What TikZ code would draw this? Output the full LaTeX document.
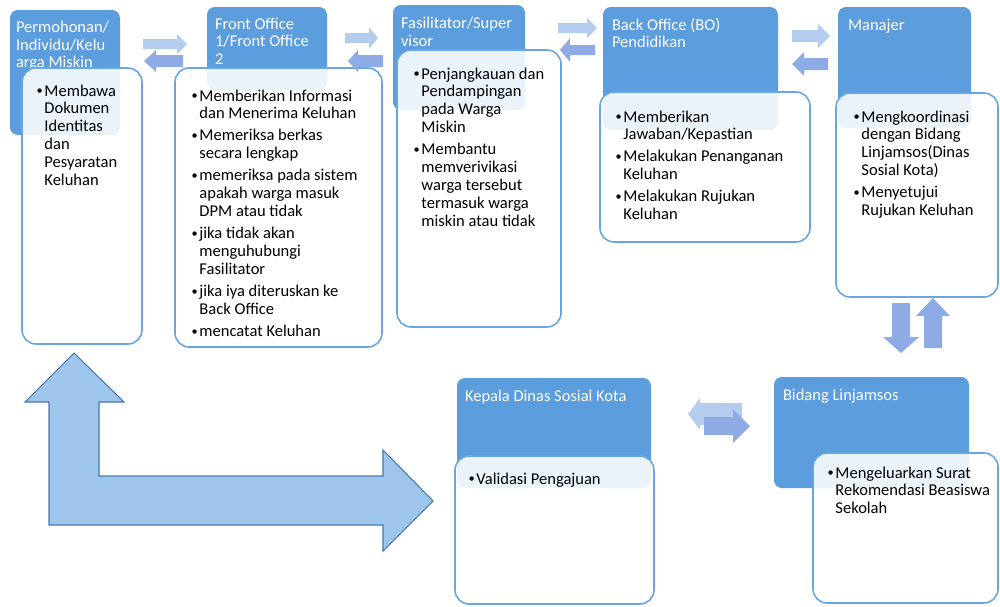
\documentclass[tikz,border=0pt]{standalone}
\usepackage{fontspec}
\setmainfont{Carlito}
\usetikzlibrary{fit}

\definecolor{hdblue}{RGB}{91,157,221}
\definecolor{bdline}{RGB}{104,166,226}
\definecolor{arrlight}{RGB}{180,204,238}
\definecolor{arrdark}{RGB}{143,171,230}
\definecolor{bigfill}{RGB}{158,197,236}
\definecolor{bigline}{RGB}{72,120,170}

\newcommand{\bul}{\makebox[4.5pt][l]{\raisebox{0.6pt}{\fontsize{7}{7}\selectfont\textbullet}}}
\newcommand{\hang}{\hspace*{4.5pt}}

\tikzset{
  hdbox/.style={inner sep=0pt, fill=hdblue, rounded corners=4.5pt},
  bdbox/.style={inner sep=0pt, draw=bdline, line width=0.9pt,
                fill=white, fill opacity=0.88, rounded corners=8pt},
  hdtext/.style={anchor=north west, inner sep=0pt, text=white, align=left,
                 font=\fontsize{9.4}{10}\selectfont},
  bdtext/.style={anchor=north west, inner sep=0pt, align=left,
                 font=\fontsize{9.4}{10.2}\selectfont},
  bigarr/.style={fill=bigfill, draw=bigline, line width=0.6pt}
}

% block arrow pointing along +x: length, shaft half, head half, head length
\newcommand{\blk}[4]{%
  (0,-#2) -- ({#1-#4},-#2) -- ({#1-#4},-#3) -- (#1,0)
  -- ({#1-#4},#3) -- ({#1-#4},#2) -- (0,#2) -- cycle}

\begin{document}
\begin{tikzpicture}[x=0.02cm, y=-0.02cm]
    \useasboundingbox (0,0) rectangle (1000,606);

    % Permohonan
    \node[hdbox, fit={(10,10) (120,135)}] (hd1) {};
    \node[hdtext] (ht1) at ([shift={(6,11)}]hd1.north west) {Permohonan/\\Individu/Kelu\\arga Miskin};
    \node[bdbox, fit={(22,68) (142,344)}] (bd1) {};
    \node[bdtext] (bt1) at ([shift={(15,17)}]bd1.north west)
        {\bul Membawa\\\hang Dokumen\\\hang Identitas\\\hang dan\\\hang Pesyaratan\\\hang Keluhan};

    % Front Office
    \node[hdbox, fit={(207,7) (327,90)}] (hd2) {};
    \node[hdtext] (ht2) at ([shift={(8,11)}]hd2.north west) {Front Office\\1/Front Office\\2};
    \node[bdbox, fit={(175,68) (382,347)}] (bd2) {};
    \node[bdtext] (bt2) at ([shift={(17,22)}]bd2.north west)
        {\bul Memberikan Informasi\\\hang dan Menerima Keluhan\\[2.3pt]
         \bul Memeriksa berkas\\\hang secara lengkap\\[2.3pt]
         \bul memeriksa pada sistem\\\hang apakah warga masuk\\\hang DPM atau tidak\\[2.3pt]
         \bul jika tidak akan\\\hang menguhubungi\\\hang Fasilitator\\[2.3pt]
         \bul jika iya diteruskan ke\\\hang Back Office\\[2.3pt]
         \bul mencatat Keluhan};

    % Fasilitator
    \node[hdbox, fit={(393,5) (525,110)}] (hd3) {};
    \node[hdtext] (ht3) at ([shift={(8,12)}]hd3.north west) {Fasilitator/Super\\visor};
    \node[bdbox, fit={(397,50) (561,327)}] (bd3) {};
    \node[bdtext] (bt3) at ([shift={(17,18)}]bd3.north west)
        {\bul Penjangkauan dan\\\hang Pendampingan\\\hang pada Warga\\\hang Miskin\\[2.3pt]
         \bul Membantu\\\hang memverivikasi\\\hang warga tersebut\\\hang termasuk warga\\\hang miskin atau tidak};

    % Back Office
    \node[hdbox, fit={(603,7) (778,130)}] (hd4) {};
    \node[hdtext] (ht4) at ([shift={(9,11)}]hd4.north west) {Back Office (BO)\\Pendidikan};
    \node[bdbox, fit={(600,92) (810,242)}] (bd4) {};
    \node[bdtext] (bt4) at ([shift={(16,19)}]bd4.north west)
        {\bul Memberikan\\\hang Jawaban/Kepastian\\[2.3pt]
         \bul Melakukan Penanganan\\\hang Keluhan\\[2.3pt]
         \bul Melakukan Rujukan\\\hang Keluhan};

    % Manajer
    \node[hdbox, fit={(838,7) (971,128)}] (hd5) {};
    \node[hdtext] (ht5) at ([shift={(10,12)}]hd5.north west) {Manajer};
    \node[bdbox, fit={(836,93) (998,297)}] (bd5) {};
    \node[bdtext] (bt5) at ([shift={(18,18)}]bd5.north west)
        {\bul Mengkoordinasi\\\hang dengan Bidang\\\hang Linjamsos(Dinas\\\hang Sosial Kota)\\[2.3pt]
         \bul Menyetujui\\\hang Rujukan Keluhan};

    % Kepala Dinas
    \node[hdbox, fit={(457,378) (651,488)}] (hd6) {};
    \node[hdtext] (ht6) at ([shift={(8,12)}]hd6.north west) {Kepala Dinas Sosial Kota};
    \node[bdbox, fit={(455,456) (654,604)}] (bd6) {};
    \node[bdtext] (bt6) at ([shift={(14,17)}]bd6.north west) {\bul Validasi Pengajuan};

    % Bidang Linjamsos
    \node[hdbox, fit={(774,377) (969,488)}] (hd7) {};
    \node[hdtext] (ht7) at ([shift={(9,12)}]hd7.north west) {Bidang Linjamsos};
    \node[bdbox, fit={(813,453) (998,603)}] (bd7) {};
    \node[bdtext] (bt7) at ([shift={(15,14)}]bd7.north west)
        {\bul Mengeluarkan Surat\\\hang Rekomendasi Beasiswa\\\hang Sekolah};

    % Small block arrows: x/y/length/shaft/head/headlen/angle/colour
    \foreach \x/\y/\l/\s/\w/\h/\r/\c in {
        143/44/44/5/10/10/0/arrlight, 183/61/39/6/11/12/180/arrdark,
        345/38/33/5/11/9/0/arrlight, 383/61/35/6/11/10/180/arrdark,
        558/28/39/5/10/10/0/arrlight, 595/50/35/5/12/10/180/arrdark,
        792/36/38/6/12/12/0/arrlight, 828/64/36/6/12/12/180/arrdark,
        901/303/50/9/18/16/-90/arrdark, 933/348/50/9/17/18/90/arrdark,
        742/414/54/11/16/12/180/arrlight, 704/426/46/9/17/17/0/arrdark} {
        \fill[\c, shift={(\x,\y)}, rotate=\r] \blk{\l}{\s}{\w}{\h};
    }

    % Bent arrow from Permohonan to Kepala Dinas
    \draw[bigarr] (74,353) -- (124,402) -- (99,402) -- (99,476) -- (383,476)
        -- (383,450) -- (433,501) -- (383,551) -- (383,525) -- (49,525)
        -- (49,402) -- (25,402) -- cycle;
\end{tikzpicture}
\end{document}
